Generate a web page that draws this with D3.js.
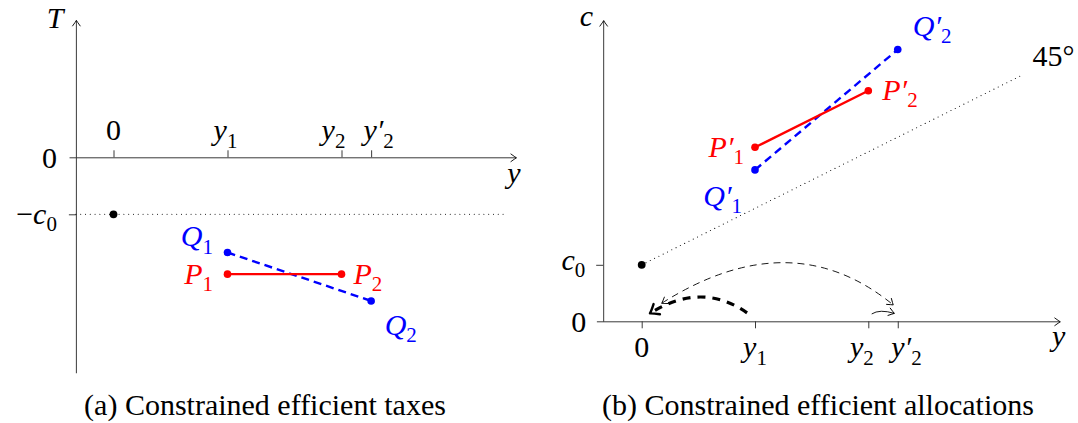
<!DOCTYPE html>
<html><head><meta charset="utf-8">
<script src="https://cdn.jsdelivr.net/npm/d3@7"></script>
<style>
body{margin:0;background:#fff}
svg{display:block}
text{font-family:"Liberation Serif","DejaVu Serif",serif}
</style>
</head><body>
<svg id="c" width="1078" height="423"></svg>
<script>
// ---------------- data ----------------
const incomeTicks = ["0", "y1", "y2", "y2'"];
const incomeValues = [0, 1, 2, 2.26];
const c0 = 1;
const taxPoints = ["P1", "P2"];
const taxP = [-2.05, -2.05];      // T at y1, y2
const taxPx = [1, 2];
const taxQNames = ["Q1", "Q2"];
const taxQ = [-1.67, -2.52];      // T at y1, y2'
const taxQx = [1, 2.26];
const consPNames = ["P1'", "P2'"];
const consP = [3.08, 4.08];       // c of P1', P2'
const consQNames = ["Q1'", "Q2'"];
const consQ = [2.68, 4.81];       // c of Q1', Q2'
const leftXExtent = [-0.39, 3.53];
const leftTExtent = [-3.78, 2.41];
const rightXExtent = [-0.40, 3.69];
const rightCExtent = [0, 5.33];
const taxDottedEnd = 3.44;
const diagEnd = 3.36;
const vAxisAt = -0.33;
// curved arrows in panel (b), data coords: start, control, end
const thickArc = [[0.93, 0.15], [0.53, 0.715], [0.073, 0.14]];
const thinArc = [[0.177, 0.32], [1.32, 1.77], [2.22, 0.29]];
const smallArc = [[2.03, 0.13], [2.10, 0.22], [2.23, 0.14]];
const captions = ["(a) Constrained efficient taxes", "(b) Constrained efficient allocations"];

// ---------------- layout ----------------
const RED = "#ff0000", BLUE = "#0000ff", AX = "#3a3a3a";
const FS = 30;
const svg = d3.select("#c");
const defs = svg.append("defs");
function marker(id, d, w, sw) {
  defs.append("marker").attr("id", id)
    .attr("markerUnits", "userSpaceOnUse")
    .attr("viewBox", `${-w} ${-w/2-2} ${w+2} ${w+4}`)
    .attr("markerWidth", w + 2).attr("markerHeight", w + 4)
    .attr("refX", 0).attr("refY", 0)
    .attr("orient", "auto-start-reverse")
    .append("path").attr("d", d).attr("fill", "none")
    .attr("stroke", "#000").attr("stroke-width", sw)
    .attr("stroke-linecap", "round").attr("stroke-linejoin", "round");
}
marker("to", "M-5.5,-3.8 Q-1.5,-0.9 0,0 Q-1.5,0.9 -5.5,3.8", 8, 0.9);
marker("toThick", "M-8,-6 Q-2.5,-1.4 0,0 Q-2.5,1.4 -8,6", 12, 2.4);

const xL = d3.scaleLinear().domain(leftXExtent).range(leftXExtent.map(v => 113.5 + v * 114));
const yL = d3.scaleLinear().domain(leftTExtent).range(leftTExtent.map(v => 157.3 - v * 57));
const xR = d3.scaleLinear().domain(rightXExtent).range(rightXExtent.map(v => 641.7 + v * 113.3));
const yR = d3.scaleLinear().domain(rightCExtent).range(rightCExtent.map(v => 321.3 - v * 56.5));

function label(g, x, y, anchor, color, spec, size) {
  size = size || FS;
  const t = g.append("text").attr("x", x).attr("y", y)
    .attr("text-anchor", anchor).attr("fill", color).attr("font-size", size);
  if (spec.pre) t.append("tspan").text(spec.pre);
  t.append("tspan").attr("font-style", spec.up ? "normal" : "italic")
    .text(spec.base + (spec.prime ? "\u2032" : ""));
  if (spec.sub) t.append("tspan").attr("font-size", size * 0.7).attr("dy", size * 0.25).text(spec.sub);
  return t;
}
function parse(s) {
  const base = s[0];
  const sub = s.slice(1).replace("'", "");
  return { base, sub, prime: s.includes("'"), up: /\d/.test(base) };
}
function styleAxis(g) {
  g.select(".domain").attr("stroke", AX).attr("stroke-width", 1).attr("marker-end", "url(#to)");
  g.selectAll(".tick line").attr("stroke", AX).attr("stroke-width", 1);
  g.selectAll(".tick text").remove();
}
function quad(sc, a) {
  const [p0, c, p1] = a.map(p => [sc[0](p[0]), sc[1](p[1])]);
  return `M${p0[0]},${p0[1]} Q${c[0]},${c[1]} ${p1[0]},${p1[1]}`;
}

// ================= panel (a) =================
const A = svg.append("g");
A.append("g").attr("transform", `translate(0,${yL(0)})`)
  .call(d3.axisTop(xL).tickValues(incomeValues).tickSize(7).tickSizeOuter(0).tickFormat(""))
  .call(styleAxis);
A.append("g").attr("transform", `translate(${xL(vAxisAt)},0)`)
  .call(d3.axisLeft(yL).tickValues([-c0]).tickSize(7).tickSizeOuter(0).tickFormat(""))
  .call(styleAxis);

// dotted -c0 line
A.append("line").attr("x1", xL(vAxisAt)).attr("x2", xL(taxDottedEnd))
  .attr("y1", yL(-c0)).attr("y2", yL(-c0))
  .attr("stroke", "#000").attr("stroke-width", 1.1).attr("stroke-linecap", "round")
  .attr("stroke-dasharray", "0 4.8");
A.append("circle").attr("cx", xL(0)).attr("cy", yL(-c0)).attr("r", 3.9).attr("fill", "#000");

const lineL = d3.line().x(d => xL(d[0])).y(d => yL(d[1]));
const ptsQ = taxQx.map((x, i) => [x, taxQ[i]]);
const ptsP = taxPx.map((x, i) => [x, taxP[i]]);
A.append("path").attr("d", lineL(ptsQ)).attr("fill", "none").attr("stroke", BLUE)
  .attr("stroke-width", 2.4).attr("stroke-dasharray", "8 5");
A.append("path").attr("d", lineL(ptsP)).attr("fill", "none").attr("stroke", RED).attr("stroke-width", 2.4);
A.selectAll("circle.q").data(ptsQ).join("circle").attr("class", "q")
  .attr("cx", d => xL(d[0])).attr("cy", d => yL(d[1])).attr("r", 3.8).attr("fill", BLUE);
A.selectAll("circle.p").data(ptsP).join("circle").attr("class", "p")
  .attr("cx", d => xL(d[0])).attr("cy", d => yL(d[1])).attr("r", 3.8).attr("fill", RED);

// labels (a)
const tickShiftA = [0, -2, -8, 7.5];
incomeTicks.forEach((t, i) => label(A, xL(incomeValues[i]) + tickShiftA[i], yL(0) - 17, "middle", "#000", parse(t)));
label(A, 55, 28, "middle", "#000", { base: "T" });
label(A, xL(vAxisAt) - 19, yL(0) + 10.5, "end", "#000", { base: "0", up: true });
label(A, xL(vAxisAt) - 19, yL(-c0) + 9.5, "end", "#000", { pre: "\u2212", base: "c", sub: "0" });
label(A, xL(leftXExtent[1]) - 2, yL(0) + 26, "middle", "#000", { base: "y" });
label(A, xL(taxQx[0]) - 14.5, yL(taxQ[0]) - 6, "end", BLUE, parse(taxQNames[0]));
label(A, xL(taxPx[0]) - 14.5, yL(taxP[0]) + 9.5, "end", RED, parse(taxPoints[0]));
label(A, xL(taxPx[1]) + 12, yL(taxP[1]) + 9.5, "start", RED, parse(taxPoints[1]));
label(A, xL(taxQx[1]) + 13.5, yL(taxQ[1]) + 34, "start", BLUE, parse(taxQNames[1]));

// ================= panel (b) =================
const B = svg.append("g");
B.append("g").attr("transform", `translate(0,${yR(0)})`)
  .call(d3.axisBottom(xR).tickValues(incomeValues).tickSize(7).tickSizeOuter(0).tickFormat(""))
  .call(styleAxis);
B.append("g").attr("transform", `translate(${xR(vAxisAt - 0.01)},0)`)
  .call(d3.axisLeft(yR).tickValues([c0]).tickSize(7).tickSizeOuter(0).tickFormat(""))
  .call(styleAxis);

// 45 degree dotted line
B.append("line").attr("x1", xR(0)).attr("y1", yR(c0)).attr("x2", xR(diagEnd)).attr("y2", yR(c0 + diagEnd))
  .attr("stroke", "#000").attr("stroke-width", 1.1).attr("stroke-linecap", "round")
  .attr("stroke-dasharray", "0 4.8");
B.append("circle").attr("cx", xR(0)).attr("cy", yR(c0)).attr("r", 3.9).attr("fill", "#000");

const lineR = d3.line().x(d => xR(d[0])).y(d => yR(d[1]));
const ptsQb = taxQx.map((x, i) => [x, consQ[i]]);
const ptsPb = taxPx.map((x, i) => [x, consP[i]]);
B.append("path").attr("d", lineR(ptsQb)).attr("fill", "none").attr("stroke", BLUE)
  .attr("stroke-width", 2.4).attr("stroke-dasharray", "8 5");
B.append("path").attr("d", lineR(ptsPb)).attr("fill", "none").attr("stroke", RED).attr("stroke-width", 2.4);
B.selectAll("circle.q").data(ptsQb).join("circle").attr("class", "q")
  .attr("cx", d => xR(d[0])).attr("cy", d => yR(d[1])).attr("r", 3.8).attr("fill", BLUE);
B.selectAll("circle.p").data(ptsPb).join("circle").attr("class", "p")
  .attr("cx", d => xR(d[0])).attr("cy", d => yR(d[1])).attr("r", 3.8).attr("fill", RED);

// curved arrows
const sc = [xR, yR];
B.append("path").attr("d", quad(sc, thinArc)).attr("fill", "none").attr("stroke", "#000")
  .attr("stroke-width", 0.9).attr("stroke-dasharray", "7 5")
  .attr("marker-start", "url(#to)").attr("marker-end", "url(#to)");
B.append("path").attr("d", quad(sc, thickArc)).attr("fill", "none").attr("stroke", "#000")
  .attr("stroke-width", 3.2).attr("stroke-dasharray", "8 7")
  .attr("marker-end", "url(#toThick)");
B.append("path").attr("d", quad(sc, smallArc)).attr("fill", "none").attr("stroke", "#000")
  .attr("stroke-width", 0.9).attr("marker-end", "url(#to)");

// labels (b)
const tickShiftB = [0, 0, -6.5, 8.7];
incomeTicks.forEach((t, i) => label(B, xR(incomeValues[i]) + tickShiftB[i], yR(0) + 36, "middle", "#000", parse(t)));
label(B, 586.5, 26, "middle", "#000", { base: "c" });
label(B, xR(vAxisAt) - 19, yR(c0) + 5, "end", "#000", { base: "c", sub: "0" });
label(B, xR(vAxisAt) - 18, yR(0) + 10.5, "end", "#000", { base: "0", up: true });
label(B, xR(rightXExtent[1]) - 1, yR(0) + 25, "middle", "#000", { base: "y" });
label(B, 1053.5, 66, "middle", "#000", { base: "45\u00b0", up: true });
label(B, xR(taxQx[1]) + 15, yR(consQ[1]) - 14, "start", BLUE, parse(consQNames[1]));
label(B, xR(taxPx[1]) + 14, yR(consP[1]) + 9, "start", RED, parse(consPNames[1]));
label(B, xR(taxPx[0]) - 11, yR(consP[0]) + 9.5, "end", RED, parse(consPNames[0]));
label(B, xR(taxQx[0]) - 13, yR(consQ[0]) + 36, "end", BLUE, parse(consQNames[0]));

// captions
svg.append("text").attr("x", 265).attr("y", 415).attr("text-anchor", "middle")
  .attr("font-size", 30).attr("fill", "#000").text(captions[0]);
svg.append("text").attr("x", 818).attr("y", 415).attr("text-anchor", "middle")
  .attr("font-size", 30).attr("fill", "#000").text(captions[1]);
</script>
</body></html>
